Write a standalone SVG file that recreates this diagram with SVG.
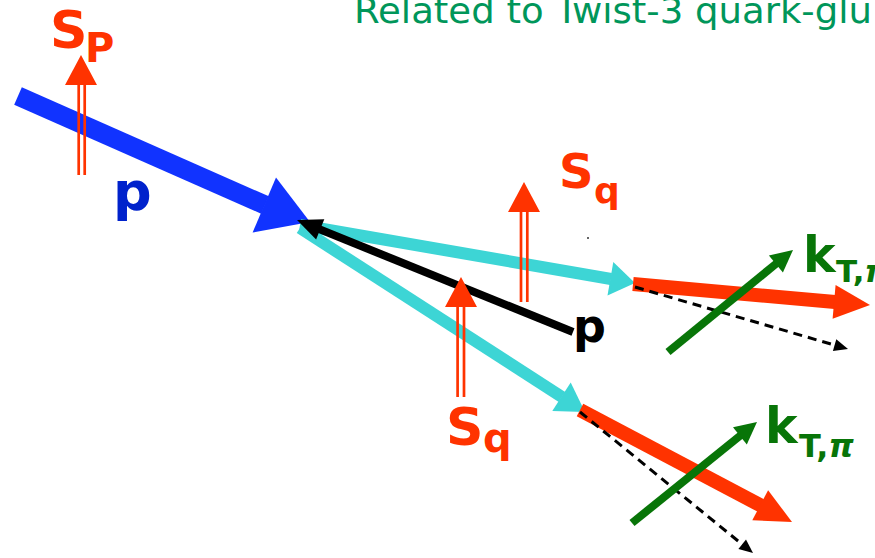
<svg xmlns="http://www.w3.org/2000/svg" width="875" height="558" viewBox="0 0 875 558">
<style>
.lbl{font-family:"DejaVu Sans","Verdana",sans-serif;font-weight:bold}
.red{fill:#ff3300}
.grn{fill:#087508}
.spin{stroke:#ff3300;stroke-width:2.7;fill:none}
.dash{stroke:#000;stroke-width:3;stroke-dasharray:9 6;fill:none}
.pi{font-style:italic;font-weight:bold;font-family:"DejaVu Sans",sans-serif}
</style>
<rect width="875" height="558" fill="#fff"/>
<text id="title" x="354" y="23" font-family="DejaVu Sans, Verdana, sans-serif" font-size="36" fill="#00965a" textLength="518" lengthAdjust="spacingAndGlyphs">Related to Twist-3 quark-glu</text>

<g id="connectors">
  <line x1="18" y1="96" x2="265" y2="205" stroke="#1133ff" stroke-width="19"/>
  <polygon points="310,222 276,177.5 252.6,232.5" fill="#1133ff"/>
  <line x1="300" y1="225" x2="611" y2="279" stroke="#3dd5d5" stroke-width="12"/>
  <polygon points="635,283 613.3,262 607.5,295.4" fill="#3dd5d5"/>
  <line x1="300" y1="228" x2="562" y2="397" stroke="#3dd5d5" stroke-width="12"/>
  <polygon points="585,412 552.3,411.1 570.7,382.5" fill="#3dd5d5"/>
  <line x1="573" y1="332" x2="318" y2="228.6" stroke="#000" stroke-width="8"/>
  <polygon points="297,220 324.3,219.2 316.1,239.6" fill="#000"/>
  <line x1="633" y1="284" x2="835" y2="302" stroke="#ff3300" stroke-width="14"/>
  <polygon points="870,305 832.6,318.7 835.6,284.9" fill="#ff3300"/>
  <line x1="580" y1="410" x2="761" y2="505.6" stroke="#ff3300" stroke-width="14"/>
  <polygon points="792,522 752.3,520.2 768.1,490.2" fill="#ff3300"/>
  <line class="dash" x1="635" y1="287" x2="836" y2="345.5"/>
  <polygon points="848,349 832.9,350.9 836.3,339.3" fill="#000"/>
  <line class="dash" x1="580" y1="412" x2="743" y2="545"/>
  <polygon points="753,553 738.4,548.9 746,539.5" fill="#000"/>
  <line x1="668" y1="352" x2="777" y2="263" stroke="#087508" stroke-width="8"/>
  <polygon points="793,250 782.9,272.4 768.9,255.4" fill="#087508"/>
  <line x1="632" y1="523" x2="741" y2="435" stroke="#087508" stroke-width="8"/>
  <polygon points="757,422 746.8,444.4 733,427.2" fill="#087508"/>
</g>

<g id="spinP">
  <line class="spin" x1="78.7" y1="175" x2="78.7" y2="84"/>
  <line class="spin" x1="84.7" y1="175" x2="84.7" y2="84"/>
  <polygon class="red" points="81,55 65,85 97,85"/>
  <text class="lbl red" x="50" y="48" font-size="52">S</text>
  <text class="lbl red" x="85" y="62" font-size="40">P</text>
</g>

<g id="protonIn">
  <text class="lbl" x="113" y="210" font-size="54" fill="#0022cc">p</text>
</g>

<g id="spinQ1">
  <line class="spin" x1="521" y1="302" x2="521" y2="211"/>
  <line class="spin" x1="527.3" y1="302" x2="527.3" y2="211"/>
  <polygon class="red" points="524,182 508,212 540,212"/>
  <text class="lbl red" x="559" y="188" font-size="48">S</text>
  <text class="lbl red" x="594" y="203" font-size="36">q</text>
</g>

<g id="spinQ2">
  <line class="spin" x1="457.6" y1="397" x2="457.6" y2="306"/>
  <line class="spin" x1="464" y1="397" x2="464" y2="306"/>
  <polygon class="red" points="461,277 445,307 477,307"/>
  <text class="lbl red" x="446" y="445" font-size="52">S</text>
  <text class="lbl red" x="483" y="452" font-size="40">q</text>
</g>

<g id="protonOut">
  <text class="lbl" x="573" y="342" font-size="46" fill="#000">p</text>
</g>

<g id="kT1">
  <text class="lbl grn" x="803" y="272" font-size="49">k</text>
  <text class="lbl grn" x="836" y="282" font-size="31">T,<tspan class="pi">π</tspan></text>
</g>

<g id="kT2">
  <text class="lbl grn" x="765" y="443" font-size="49">k</text>
  <text class="lbl grn" x="799" y="457" font-size="32">T,<tspan class="pi">π</tspan></text>
</g>

<circle cx="588" cy="238" r="1" fill="#333"/>
</svg>
